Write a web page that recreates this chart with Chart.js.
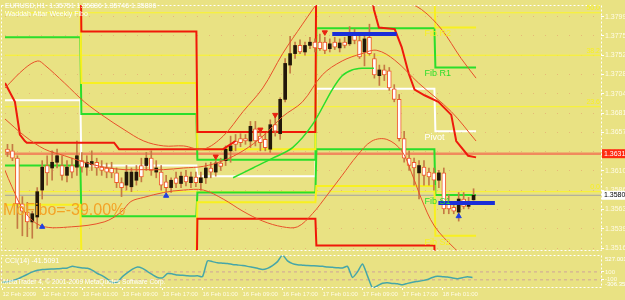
<!DOCTYPE html>
<html>
<head>
<meta charset="utf-8">
<script src="https://cdn.jsdelivr.net/npm/chart.js@4.4.1/dist/chart.umd.min.js"></script>
<style>
    html, body { margin: 0; padding: 0; background: #e9e283; overflow: hidden; }
    #wrap { position: relative; width: 625px; height: 300px; }
    #priceChart { position: absolute; left: 0; top: 0; }
    #cciChart { position: absolute; left: 0; top: 254px; }
</style>
</head>
<body>
<div id="wrap">
    <canvas id="priceChart" width="625" height="256"></canvas>
    <canvas id="cciChart" width="625" height="46"></canvas>
</div>
<script>
/* ================= DATA ================= */
const timeLabels = ["12 Feb 2009", "12 Feb 17:00", "13 Feb 01:00", "13 Feb 09:00", "13 Feb 17:00", "16 Feb 01:00",
    "16 Feb 09:00", "16 Feb 17:00", "17 Feb 01:00", "17 Feb 09:00", "17 Feb 17:00", "18 Feb 01:00"];
const timeLabelBars = [0, 8, 16, 24, 32, 40, 48, 56, 64, 72, 80, 88];
const priceTicks = [1.35160, 1.35396, 1.35632, 1.35868, 1.36104, 1.36340, 1.36577, 1.36813, 1.37049, 1.37285, 1.37521, 1.37757, 1.37993];

const openPrices = [
    1.3637, 1.3635, 1.3626, 1.3570, 1.3560, 1.3548, 1.3554, 1.3587, 1.3617, 1.3614,
    1.3621, 1.3617, 1.3605, 1.3617, 1.3615, 1.3623, 1.3615, 1.3618, 1.3621, 1.3615,
    1.3614, 1.3614, 1.3608, 1.3596, 1.3593, 1.3591, 1.3599, 1.3617, 1.3617, 1.3626,
    1.3609, 1.3609, 1.3597, 1.3590, 1.3602, 1.3595, 1.3604, 1.3596, 1.3603, 1.3596,
    1.3602, 1.3614, 1.3609, 1.3620, 1.3623, 1.3635, 1.3647, 1.3650, 1.3650, 1.3647,
    1.3662, 1.3653, 1.3649, 1.3637, 1.3667, 1.3656, 1.3698, 1.3740, 1.3754, 1.3764,
    1.3756, 1.3764, 1.3768, 1.3768, 1.3768, 1.3760, 1.3768, 1.3761, 1.3768, 1.3766,
    1.3778, 1.3770, 1.3756, 1.3774, 1.3748, 1.3727, 1.3734, 1.3733, 1.3711, 1.3698,
    1.3650, 1.3626, 1.3621, 1.3608, 1.3615, 1.3609, 1.3608, 1.3599, 1.3608, 1.3573,
    1.3566, 1.3560, 1.3576, 1.3567, 1.35751];
const highPrices = [
    1.3643, 1.3643, 1.3629, 1.3579, 1.3572, 1.3561, 1.3590, 1.3623, 1.3629, 1.3635,
    1.3637, 1.3629, 1.3623, 1.3626, 1.3647, 1.3633, 1.3629, 1.3635, 1.3626, 1.3623,
    1.3620, 1.3621, 1.3614, 1.3602, 1.3617, 1.3614, 1.3617, 1.3626, 1.3633, 1.3635,
    1.3623, 1.3617, 1.3605, 1.3602, 1.3609, 1.3609, 1.3611, 1.3609, 1.3609, 1.3609,
    1.3620, 1.3621, 1.3623, 1.3626, 1.3641, 1.3653, 1.3655, 1.3656, 1.3655, 1.3671,
    1.3671, 1.3661, 1.3656, 1.3673, 1.3679, 1.3700, 1.3748, 1.3775, 1.3768, 1.3771,
    1.3768, 1.3774, 1.3772, 1.3778, 1.3774, 1.3772, 1.3774, 1.3772, 1.3774, 1.3787,
    1.3784, 1.3778, 1.3780, 1.3790, 1.3754, 1.3740, 1.3740, 1.3737, 1.3716, 1.3704,
    1.3659, 1.3635, 1.3626, 1.3623, 1.3623, 1.3614, 1.3614, 1.3611, 1.3614, 1.3581,
    1.3570, 1.3584, 1.3584, 1.3578, 1.35886];
const lowPrices = [
    1.3628, 1.3623, 1.3540, 1.3531, 1.3530, 1.3528, 1.3540, 1.3576, 1.3593, 1.3599,
    1.3614, 1.3599, 1.3597, 1.3602, 1.3605, 1.3609, 1.3605, 1.3611, 1.3605, 1.3605,
    1.3602, 1.3602, 1.3590, 1.3579, 1.3587, 1.3585, 1.3593, 1.3597, 1.3611, 1.3605,
    1.3602, 1.3587, 1.3585, 1.3584, 1.3590, 1.3590, 1.3592, 1.3590, 1.3591, 1.3587,
    1.3595, 1.3602, 1.3604, 1.3611, 1.3617, 1.3621, 1.3635, 1.3640, 1.3643, 1.3639,
    1.3641, 1.3635, 1.3635, 1.3633, 1.3653, 1.3649, 1.3695, 1.3730, 1.3748, 1.3754,
    1.3752, 1.3760, 1.3756, 1.3758, 1.3754, 1.3756, 1.3759, 1.3756, 1.3761, 1.3764,
    1.3766, 1.3748, 1.3739, 1.3752, 1.3724, 1.3715, 1.3721, 1.3709, 1.3695, 1.3647,
    1.3621, 1.3611, 1.3593, 1.3576, 1.3593, 1.3593, 1.3587, 1.3590, 1.3558, 1.3558,
    1.3558, 1.3549, 1.3564, 1.3564, 1.35746];
const closePrices = [
    1.3633, 1.3626, 1.3570, 1.3561, 1.3548, 1.3558, 1.3585, 1.3615, 1.3608, 1.3621,
    1.3629, 1.3605, 1.3615, 1.3609, 1.3629, 1.3615, 1.3621, 1.3622, 1.3614, 1.3611,
    1.3609, 1.3608, 1.3596, 1.3590, 1.3609, 1.3609, 1.3609, 1.3603, 1.3626, 1.3611,
    1.3614, 1.3593, 1.3590, 1.3599, 1.3595, 1.3604, 1.3597, 1.3603, 1.3596, 1.3602,
    1.3614, 1.3609, 1.3620, 1.3616, 1.3637, 1.3641, 1.3643, 1.3645, 1.3647, 1.3665,
    1.3647, 1.3645, 1.3639, 1.3667, 1.3659, 1.3698, 1.3742, 1.3754, 1.3764, 1.3756,
    1.3764, 1.3768, 1.3761, 1.3760, 1.3758, 1.3766, 1.3762, 1.3767, 1.3764, 1.3778,
    1.3770, 1.3750, 1.3772, 1.3754, 1.3728, 1.3734, 1.3728, 1.3712, 1.3698, 1.3650,
    1.3626, 1.3617, 1.3614, 1.3617, 1.3605, 1.3603, 1.3599, 1.3608, 1.3564, 1.3564,
    1.3561, 1.3576, 1.3567, 1.3573, 1.35806];

const cciValues = [
    -160, -150, -120, -80, -20, 40, 100, 140, 160, 170,
    175, 180, 190, 200, 245, 215, 200, 190, 140, 60,
    0, -80, -170, -150, -20, 80, 170, 225, 190, 110,
    30, -40, -50, 60, 50, 20, 15, 0, -5, 5,
    -20, 380, 360, 330, 320, 310, 290, 275, 260, 240,
    215, 190, 160, 190, 260, 360, 527.0014, 380, 310, 280,
    270, 260, 255, 250, 240, 225, 215, 205, 200, 240,
    -40, 100, 300, 0, -306.355, -250, -185, -175, -190, -200,
    -225, -190, -160, -140, -120, -90, -40, -10, -20, -30,
    -55, -70, -45, -20, -41.5091];
const cciTicks = [100, -100];

/* weekly fibo pivots, one value per day */
const dayBounds = [-0.5, 14.7, 38.1, 62.1, 86.1, 94.5];
const pivotR3 = [1.3899, 1.3781, 1.3658, 1.3904, 1.3865];
const pivotR2 = [1.3822, 1.3718, 1.3637, 1.3830, 1.3786];
const pivotR1 = [1.3774, 1.3680, 1.3624, 1.3785, 1.3737];
const pivotP = [1.3697, 1.3617, 1.3604, 1.3711, 1.3659];
const pivotS1 = [1.3617, 1.3555, 1.3584, 1.3637, 1.3581];
const pivotS2 = [1.3569, 1.3510, 1.3572, 1.3592, 1.3531];
const pivotS3 = [1.3495, 1.3452, 1.3552, 1.3519, 1.3453];
const pivotNames = ["Fib R2", "Fib R1", "Pivot", "Fib S1", "Fib S2"];

const fibLevels = [1.3804, 1.3752, 1.3689, 1.3585];
const fibLevelNames = ["50.0", "38.2", "23.6", "0.0"];
const markPrice = 1.36315;
const bidPrice = 1.35806;

/* bands and moving lines: bar position + value */
const bandUpperBars = [-0.5, 3.5, 6.1, 7.5, 11.5, 15.5, 19.5, 23.5, 27.5, 31.5, 35.5, 39.5, 43.5, 47.5, 51.5, 55.5, 59.5, 63.5, 71.5, 79.5, 83.5, 87.5, 91.5, 94.5];
const bandUpper = [1.3712, 1.3736, 1.3745, 1.3740, 1.3718, 1.3695, 1.3677, 1.3661, 1.3647, 1.3641, 1.3641, 1.3637, 1.3653, 1.3683, 1.3712, 1.3754, 1.3790, 1.3825, null, 1.3820, 1.3808, 1.3784, 1.3748, 1.3724];
const bandMidBars = [-0.5, 3.5, 7.5, 11.5, 15.5, 19.5, 23.5, 27.5, 31.5, 35.5, 39.5, 43.5, 47.5, 51.5, 55.5, 59.5, 63.5, 67.5, 71.5, 74.5, 78.1, 82.9, 89.5, 94.5];
const bandMid = [1.3674, 1.3653, 1.3637, 1.3629, 1.3621, 1.3615, 1.3612, 1.3612, 1.3612, 1.3614, 1.3616, 1.3623, 1.3635, 1.3653, 1.3677, 1.3695, 1.3728, 1.3745, 1.3754, 1.3758, 1.3746, 1.3718, 1.3683, 1.3647];
const bandLowerBars = [-0.5, 0.9, 3.5, 6.9, 12.9, 19.5, 22.9, 24.9, 27.5, 31.5, 35.5, 39.5, 43.5, 47.5, 51.5, 55.5, 58.5, 61.5, 64.5, 67.5, 70.5, 73.5, 76.5, 79.5, 81.5, 83.5, 86.1, 90.1, 93.5];
const bandLower = [1.3611, 1.3591, 1.3560, 1.3543, 1.3542, 1.3548, 1.3560, 1.3573, 1.3578, 1.3584, 1.3587, 1.3587, 1.3576, 1.3561, 1.3549, 1.3542, 1.3542, 1.3558, 1.3581, 1.3605, 1.3629, 1.3647, 1.3649, 1.3635, 1.3608, 1.3576, 1.3543, 1.3516, 1.3498];
const trendRedBars = [-0.5, 1.5, 2.5, 3.5, 3.9, 21.5, 22.5, 43.5, 46, 60, 73.5, 73.9, 74.9, 78.1, 79.5, 80.9, 82.1, 84.1, 86.9, 89.5, 90.5, 92.9, 94.5];
const trendRed = [1.3718, 1.3695, 1.3655, 1.3647, 1.3645, 1.3645, 1.3637, 1.3637, 1.3647, null, 1.3826, 1.3808, 1.3786, 1.3784, 1.3762, 1.3730, 1.3710, 1.3703, 1.3695, 1.3679, 1.3647, 1.3629, 1.3627];
const trendGreenBars = [45.5, 49.5, 53.5, 57.5, 61.5, 65.5, 67.5, 69.5, 71.5, 73.9];
const trendGreen = [1.3602, 1.3614, 1.3626, 1.3639, 1.3667, 1.3710, 1.3727, 1.3734, 1.3736, 1.3736];

const sellArrowBars = [42, 51, 54, 64];
const sellArrowPrices = [1.3628, 1.3661, 1.3679, 1.3780];
const buyArrowBars = [7, 32, 91];
const buyArrowPrices = [1.3542, 1.3580, 1.3555];

const blueFrom = [65.5, 86.9];
const blueTo = [78.5, 98.3];
const blueLevel = [1.3778, 1.3571];

/* ================= HELPERS ================= */
const xMin = -0.5, xMax = 119.7;
const smallFont = "7px 'Liberation Sans', sans-serif";

function stepLine(levels) {
    const pts = [];
    levels.forEach((v, d) => {
        pts.push({ x: dayBounds[d] + (d ? 0.2 : 0), y: v });
        pts.push({ x: dayBounds[d + 1], y: v });
    });
    return pts;
}
function flatLine(v) {
    return [{ x: xMin, y: v }, { x: xMax, y: v }];
}
function curve(bars, vals) {
    return bars.map((b, k) => ({ x: b, y: vals[k] }));
}
function lineSet(data, color, width, order, extra) {
    return Object.assign({
        type: "line", data: data, borderColor: color, borderWidth: width,
        pointRadius: 0, fill: false, tension: 0, order: order
    }, extra || {});
}

const barIdx = closePrices.map((c, i) => i);
const wicks = barIdx.map(i => ({ x: i, y: [lowPrices[i], highPrices[i]] }));
const bullBodies = barIdx.filter(i => closePrices[i] >= openPrices[i]).map(i => ({ x: i, y: [openPrices[i], closePrices[i]] }));
const bearBodies = barIdx.filter(i => closePrices[i] < openPrices[i]).map(i => ({ x: i, y: [openPrices[i], closePrices[i]] }));

/* dashed white frame round a panel */
const framePlugin = {
    id: "frame",
    afterDraw(chart) {
        const { ctx, chartArea } = chart;
        ctx.save();
        ctx.strokeStyle = "#ffffff";
        ctx.lineWidth = 1;
        ctx.setLineDash([2, 2]);
        ctx.strokeRect(1.5, chartArea.top + 0.5, chartArea.right - 1, chartArea.bottom - chartArea.top - 1);
        ctx.restore();
    }
};

/* ================= PRICE CHART ================= */
const priceText = {
    id: "priceText",
    afterDraw(chart) {
        const { ctx, chartArea, scales } = chart;
        const x = scales.x, y = scales.y;
        ctx.save();
        ctx.textBaseline = "top";
        ctx.font = smallFont;
        ctx.fillStyle = "#ffffff";
        ctx.fillText("EURUSD,H1  1.35751 1.35886 1.35746 1.35806", 5, 3);
        ctx.fillText("Waddah Attar Weekly Fibo", 5, 11);

        ctx.font = "16px 'Liberation Sans', sans-serif";
        ctx.fillStyle = "#f4a326";
        ctx.fillText("MoFibo=-39.00%", 3, 203);

        ctx.font = "9px 'Liberation Sans', sans-serif";
        const nameLevels = [pivotR2[4], pivotR1[4], pivotP[4], pivotS1[4], pivotS2[4]];
        const nameColors = ["#f8f020", "#2ade2a", "#ffffff", "#2ade2a", "#f8f020"];
        pivotNames.forEach((name, k) => {
            ctx.fillStyle = nameColors[k];
            ctx.fillText(name, x.getPixelForValue(84.1), y.getPixelForValue(nameLevels[k]) + 2);
        });

        ctx.font = smallFont;
        ctx.textAlign = "right";
        ctx.textBaseline = "bottom";
        ctx.fillStyle = "#f8f020";
        fibLevels.forEach((v, k) => {
            ctx.fillText(fibLevelNames[k], chartArea.right - 1, y.getPixelForValue(v) - 1);
        });

        ctx.textAlign = "left";
        ctx.textBaseline = "middle";
        let py = y.getPixelForValue(markPrice);
        ctx.fillStyle = "#ff2a10";
        ctx.fillRect(chartArea.right + 1, py - 4.5, 30, 9);
        ctx.fillStyle = "#ffffff";
        ctx.fillText(markPrice.toFixed(5), chartArea.right + 3, py);
        py = y.getPixelForValue(bidPrice);
        ctx.fillStyle = "#ffffff";
        ctx.fillRect(chartArea.right + 1, py - 4.5, 30, 9);
        ctx.fillStyle = "#000000";
        ctx.fillText(bidPrice.toFixed(5), chartArea.right + 3, py);
        ctx.restore();
    }
};

const priceDatasets = [
    lineSet(curve(sellArrowBars, sellArrowPrices), "#e82010", 1, 0,
        { showLine: false, pointRadius: 3, pointStyle: "triangle", rotation: 180, pointBackgroundColor: "#e82010" }),
    lineSet(curve(buyArrowBars, buyArrowPrices), "#2040e0", 1, 0,
        { showLine: false, pointRadius: 3, pointStyle: "triangle", pointBackgroundColor: "#2040e0" }),
    lineSet([{ x: blueFrom[0], y: blueLevel[0] }, { x: blueTo[0], y: blueLevel[0] }], "#1a2ed8", 4, 1),
    lineSet([{ x: blueFrom[1], y: blueLevel[1] }, { x: blueTo[1], y: blueLevel[1] }], "#1a2ed8", 4, 1),
    lineSet(curve(bandUpperBars, bandUpper), "#e8502a", 1, 2, { tension: 0.35 }),
    lineSet(curve(bandMidBars, bandMid), "#e8502a", 1, 2, { tension: 0.35 }),
    lineSet(curve(bandLowerBars, bandLower), "#e8502a", 1, 2, { tension: 0.35 }),
    lineSet(curve(trendRedBars, trendRed), "#ee1a0c", 2, 2),
    lineSet(curve(trendGreenBars, trendGreen), "#2ade2a", 1.5, 2, { tension: 0.3 }),
    { type: "bar", data: bullBodies, backgroundColor: "#22170a", barThickness: 3, grouped: false, minBarLength: 1, order: 3 },
    { type: "bar", data: bearBodies, backgroundColor: "#ffffff", borderColor: "#f0582a", borderWidth: 1, borderSkipped: false, barThickness: 4, grouped: false, minBarLength: 1, order: 3 },
    { type: "bar", data: wicks, backgroundColor: "#c47a44", barThickness: 1, grouped: false, order: 4 },
    lineSet(stepLine(pivotR3), "#f01808", 2, 5),
    lineSet(stepLine(pivotS3), "#f01808", 2, 5),
    lineSet(stepLine(pivotR2), "#f8f020", 2, 5),
    lineSet(stepLine(pivotS2), "#f8f020", 2, 5),
    lineSet(stepLine(pivotR1), "#2ade2a", 2, 5),
    lineSet(stepLine(pivotS1), "#2ade2a", 2, 5),
    lineSet(stepLine(pivotP), "#ffffff", 2, 5),
    lineSet(flatLine(markPrice), "#f08a5d", 2.5, 6),
    lineSet(flatLine(bidPrice), "#a4a4a0", 1, 6)
];
fibLevels.forEach(v => priceDatasets.push(lineSet(flatLine(v), "#fbf52a", 1, 7)));

const priceChart = new Chart(document.getElementById("priceChart").getContext("2d"), {
    type: "line",
    data: { datasets: priceDatasets },
    options: {
        responsive: false,
        animation: false,
        layout: { padding: { top: 0, left: 0, right: 0, bottom: 3 } },
        plugins: { legend: { display: false }, tooltip: { enabled: false } },
        scales: {
            x: { type: "linear", min: xMin, max: xMax, display: false, offset: false },
            y: {
                type: "linear", position: "right", min: 1.35124, max: 1.38135, beginAtZero: false,
                afterBuildTicks: s => { s.ticks = priceTicks.map(v => ({ value: v })); },
                afterFit: s => { s.width = 24; s.paddingTop = 0; s.paddingBottom = 0; },
                ticks: {
                    color: "#fffbe6", font: { family: "Liberation Sans", size: 7 }, padding: 1,
                    autoSkip: false, callback: v => v.toFixed(5)
                },
                grid: { color: "rgba(228,150,110,0.55)", tickColor: "#ffffff", tickLength: 3 },
                border: { display: false, dash: [1, 11] }
            }
        }
    },
    plugins: [framePlugin, priceText]
});

/* ================= CCI CHART ================= */
const cciText = {
    id: "cciText",
    afterDraw(chart) {
        const { ctx, chartArea, scales } = chart;
        ctx.save();
        ctx.textBaseline = "top";
        ctx.font = smallFont;
        ctx.fillStyle = "#ffffff";
        ctx.fillText("CCI(14) -41.5091", 5, chartArea.top + 3);
        ctx.font = "6.5px 'Liberation Sans', sans-serif";
        ctx.fillText("MetaTrader 4, \u00a9 2001-2009 MetaQuotes Software Corp.", 3, chartArea.bottom - 9);
        ctx.font = "6px 'Liberation Sans', sans-serif";
        ctx.textBaseline = "middle";
        ctx.fillText("527.0014", chartArea.right + 4, scales.y.getPixelForValue(527.0014) + 4);
        ctx.fillText("-306.355", chartArea.right + 4, scales.y.getPixelForValue(-306.355) - 4);
        ctx.restore();
    }
};

const cciChart = new Chart(document.getElementById("cciChart").getContext("2d"), {
    type: "line",
    data: {
        datasets: [
            lineSet(cciValues.map((v, i) => ({ x: i, y: v })), "#46a6a8", 1.5, 0, { tension: 0.2 }),
            lineSet(flatLine(100), "#cfa49a", 1, 1, { borderDash: [3, 3] }),
            lineSet(flatLine(-100), "#cfa49a", 1, 1, { borderDash: [3, 3] })
        ]
    },
    options: {
        responsive: false,
        animation: false,
        layout: { padding: { top: 1, left: 0, right: 0, bottom: 0 } },
        plugins: { legend: { display: false }, tooltip: { enabled: false } },
        scales: {
            x: {
                type: "linear", min: xMin, max: xMax, offset: false,
                afterBuildTicks: s => { s.ticks = timeLabelBars.map(v => ({ value: v })); },
                afterFit: s => { s.height = 12; s.paddingLeft = 0; s.paddingRight = 0; },
                ticks: {
                    align: "start", autoSkip: false, maxRotation: 0, padding: 1,
                    color: "#fffbe6", font: { family: "Liberation Sans", size: 6 },
                    callback: (v, i) => timeLabels[i]
                },
                grid: { drawOnChartArea: false, tickColor: "#ffffff", tickLength: 2 },
                border: { display: false }
            },
            y: {
                type: "linear", position: "right", min: -306.355, max: 527.0014,
                afterBuildTicks: s => { s.ticks = cciTicks.map(v => ({ value: v })); },
                afterFit: s => { s.width = 24; s.paddingTop = 0; s.paddingBottom = 0; },
                ticks: {
                    color: "#fffbe6", font: { family: "Liberation Sans", size: 6 }, padding: 1,
                    autoSkip: false, callback: v => String(v)
                },
                grid: { drawOnChartArea: false, tickColor: "#ffffff", tickLength: 3 },
                border: { display: false }
            }
        }
    },
    plugins: [framePlugin, cciText]
});
</script>
</body>
</html>
